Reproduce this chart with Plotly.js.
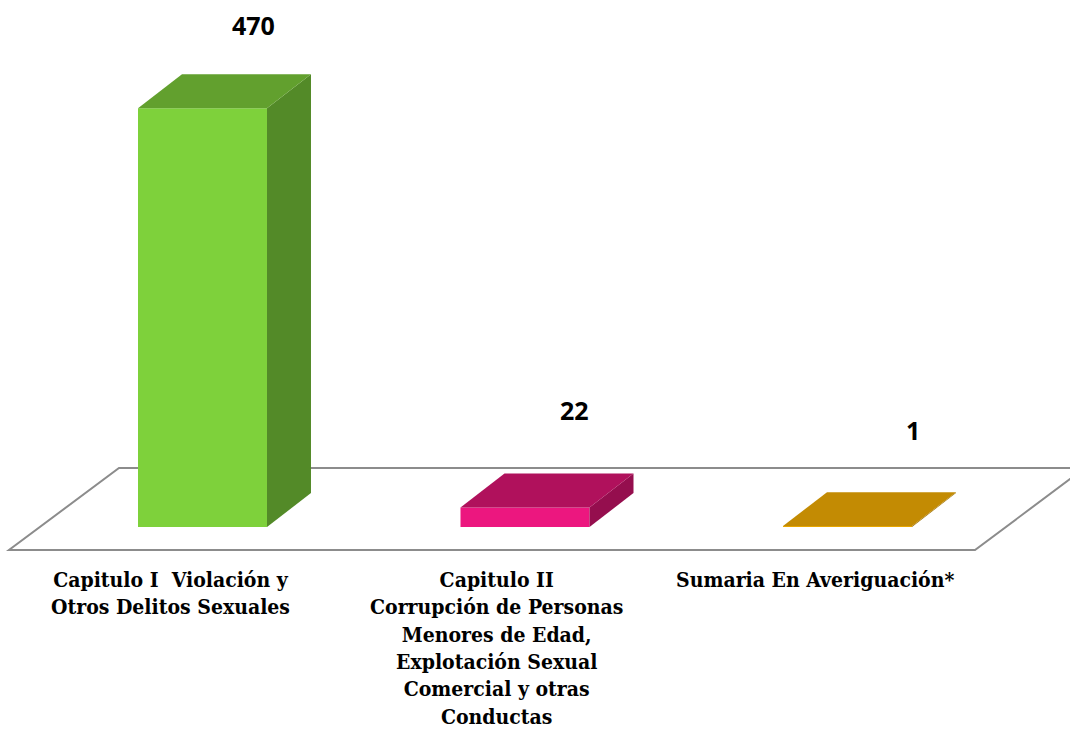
<!DOCTYPE html>
<html>
<head>
<meta charset="utf-8">
<script src="https://cdn.plot.ly/plotly-3.0.1.min.js"></script>
<style>html,body{margin:0;padding:0;background:#fff}#chart{width:1070px;height:731px}</style>
</head>
<body>
<div id="chart"></div>
<script>
// ---- data ----
const categories = [
  "Capitulo I&nbsp; Violación y<br>Otros Delitos Sexuales",
  "Capitulo II<br>Corrupción de Personas<br>Menores de Edad,<br>Explotación Sexual<br>Comercial y otras<br>Conductas",
  "Sumaria En Averiguación*"
];
const values = [470, 22, 1];
const frontColors = ["#7ED13B", "#EC177F", "#E8A600"];
const topColors   = ["#62A02E", "#B0115C", "#C38B03"];
const sideColors  = ["#538A28", "#950E4E", "#9E7002"];

// ---- layout geometry (style, not data) ----
const xpos = [0, 1, 2];
const barW = 0.4;          // width of front face in category units
const depthX = 0.1364;     // 3D depth offset (x units)
const depthY = 38.1;       // 3D depth offset (value units)
const valueLabelPos = [[0.157, 564], [1.155, 131], [2.203, 109]];
const catLabelX = [-0.0977, 0.913, 1.898];

const traces = [];
// front faces via bar trace
traces.push({
  type: 'bar', x: xpos, y: values, width: barW,
  marker: {color: frontColors, line: {width: 0}},
  hoverinfo: 'skip', showlegend: false
});
// side and top faces
values.forEach((v, i) => {
  const l = xpos[i] - barW / 2, r = xpos[i] + barW / 2;
  traces.push({
    type: 'scatter', mode: 'lines', fill: 'toself',
    x: [r, r, r + depthX, r + depthX, r],
    y: [0, v, v + depthY, depthY, 0],
    fillcolor: sideColors[i], line: {width: 0, color: sideColors[i]},
    hoverinfo: 'skip', showlegend: false
  });
  traces.push({
    type: 'scatter', mode: 'lines', fill: 'toself',
    x: [l, r, r + depthX, l + depthX, l],
    y: [v, v, v + depthY, v + depthY, v],
    fillcolor: topColors[i], line: {width: 0, color: topColors[i]},
    hoverinfo: 'skip', showlegend: false
  });
});

const annotations = [];
values.forEach((v, i) => {
  annotations.push({
    x: valueLabelPos[i][0], y: valueLabelPos[i][1], xref: 'x', yref: 'y',
    text: '<b>' + v + '</b>', showarrow: false,
    font: {family: 'Open Sans, sans-serif', size: 25, color: '#000'}
  });
  annotations.push({
    x: catLabelX[i], y: -42.5, xref: 'x', yref: 'y', yanchor: 'top',
    text: '<b>' + categories[i] + '</b>', showarrow: false, align: 'center',
    font: {family: 'DejaVu Serif Condensed, DejaVu Serif, serif', size: 21, color: '#000'}
  });
});

const layout = {
  width: 1070, height: 731,
  margin: {l: 0, r: 0, t: 0, b: 0, pad: 0},
  paper_bgcolor: '#fff', plot_bgcolor: 'rgba(0,0,0,0)',
  xaxis: {range: [-0.6279, 2.6899], visible: false, fixedrange: true},
  yaxis: {range: [-229, 591.5], visible: false, fixedrange: true},
  showlegend: false,
  shapes: [{
    type: 'path', xref: 'x', yref: 'y', layer: 'below',
    path: 'M -0.6,-25.8 L 2.3953,-25.8 L 2.736,66.2 L -0.2589,66.2 Z',
    line: {color: '#8C8C8C', width: 2}, fillcolor: 'rgba(0,0,0,0)'
  }],
  annotations: annotations
};

Plotly.newPlot('chart', traces, layout, {displayModeBar: false, staticPlot: true});
</script>
</body>
</html>
